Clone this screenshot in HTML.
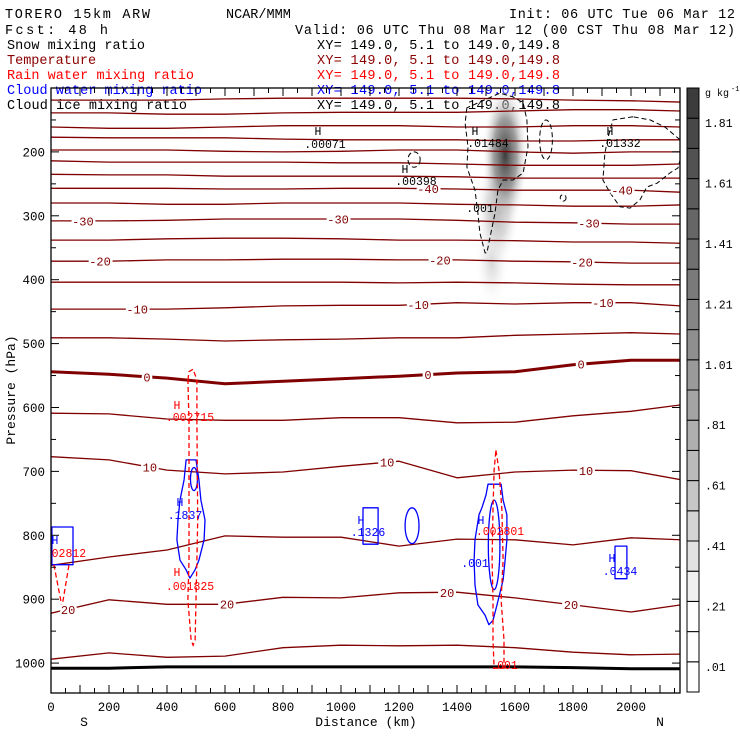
<!DOCTYPE html>
<html><head><meta charset="utf-8"><style>
html,body{margin:0;padding:0;background:#fff}
svg{display:block}
text{font-family:"Liberation Mono","DejaVu Sans Mono",monospace}
</style></head><body>
<svg id="chart" width="740" height="740" viewBox="0 0 740 740" xmlns="http://www.w3.org/2000/svg">
<rect x="0" y="0" width="740" height="740" fill="#fff"/>
<g font-size="13.5">
<text x="5" y="18" textLength="145">TORERO  15km ARW</text>
<text x="226" y="18">NCAR/MMM</text>
<text x="735" y="18" text-anchor="end" textLength="226">Init: 06 UTC Tue 06 Mar 12</text>
<text x="5" y="34" textLength="103">Fcst:  48 h</text>
<text x="735" y="34" text-anchor="end" textLength="440">Valid: 06 UTC Thu 08 Mar 12 (00 CST Thu 08 Mar 12)</text>
<text x="7" y="49" fill="#000" textLength="138">Snow mixing ratio</text>
<text x="7" y="64" fill="#8b0000">Temperature</text>
<text x="7" y="79" fill="#ff0000" textLength="187">Rain water mixing ratio</text>
<text x="7" y="94" fill="#0000ff" textLength="195">Cloud water mixing ratio</text>
<text x="7" y="109" fill="#000" textLength="180">Cloud ice mixing ratio</text>
<text x="317" y="49" fill="#000" textLength="243">XY= 149.0,  5.1 to 149.0,149.8</text>
<text x="317" y="64" fill="#8b0000" textLength="243">XY= 149.0,  5.1 to 149.0,149.8</text>
<text x="317" y="79" fill="#ff0000" textLength="243">XY= 149.0,  5.1 to 149.0,149.8</text>
<text x="317" y="94" fill="#0000ff" textLength="243">XY= 149.0,  5.1 to 149.0,149.8</text>
<text x="317" y="109" fill="#000" textLength="243">XY= 149.0,  5.1 to 149.0,149.8</text>
</g>
<defs id="defs"></defs>
<g id="plot"></g>
<g id="axes"></g>
<g id="cbar"></g>
</svg>
<script>
const distances=[0,200,400,600,800,1000,1200,1400,1600,1800,2000,2172];
const isoTemps=[-75,-70,-65,-60,-55,-50,-45,-40,-35,-30,-25,-20,-15,-10,-5,0,5,10,15,20,25];
const isoP_m75=[119,119,119,117,116,116,116,116,117,119,120,122];
const isoP_m70=[139,139,141,141,139,138,138,138,136,134,134,136];
const isoP_m65=[161,163,163,161,159,159,159,161,161,159,159,161];
const isoP_m60=[177,178,178,178,180,181,181,181,183,183,181,181];
const isoP_m55=[197,197,197,199,200,199,197,197,200,202,200,200];
const isoP_m50=[214,216,216,216,216,217,217,219,221,221,221,219];
const isoP_m45=[235,236,236,238,238,238,238,239,241,241,241,241];
const isoP_m40=[257,257,257,258,258,257,257,258,260,260,260,263];
const isoP_m35=[280,280,282,282,280,280,280,282,283,285,285,283];
const isoP_m30=[308,308,307,305,305,305,305,307,310,311,313,313];
const isoP_m25=[338,338,336,335,335,336,338,338,339,341,341,343];
const isoP_m20=[371,371,369,369,368,368,369,369,371,372,374,374];
const isoP_m15=[404,404,404,404,404,404,405,404,405,407,408,408];
const isoP_m10=[446,446,446,444,441,440,440,436,438,436,436,441];
const isoP_m5=[491,491,493,496,494,493,491,491,487,485,483,485];
const isoP_0=[544,548,554,563,559,555,551,546,544,533,526,526];
const isoP_5=[609,610,618,620,620,616,616,624,623,613,606,596];
const isoP_10=[677,682,698,704,701,692,684,710,701,698,699,713];
const isoP_15=[847,834,823,801,803,803,817,806,807,815,804,807];
const isoP_20=[922,901,908,908,897,898,890,889,898,909,920,909];
const isoP_25=[994,984,991,989,976,972,973,972,976,983,987,986];
const surfaceP=[1008,1008,1006,1006,1006,1006,1006,1006,1006,1007,1009,1009];
const isoSeries=[isoP_m75,isoP_m70,isoP_m65,isoP_m60,isoP_m55,isoP_m50,isoP_m45,isoP_m40,isoP_m35,isoP_m30,isoP_m25,isoP_m20,isoP_m15,isoP_m10,isoP_m5,isoP_0,isoP_5,isoP_10,isoP_15,isoP_20,isoP_25];
const labelTemps=[-30,-20,-10,0,10,20,20,-40,-30,-20,-10,0,10,20,-40,-30,-20,-10,0,10,20];
const labelKm=[110,169,297,331,341,59,607,1300,990,1341,1266,1300,1159,1366,1969,1855,1831,1903,1828,1845,1793];
// snow blobs: km, hPa, rx km, ry hPa, value g/kg
const snowKm=[1566,1541,1521];
const snowP=[205,290,370];
const snowRxKm=[80,75,60];
const snowRyP=[115,90,75];
const snowVal=[2.0,0.8,0.45];
// cloud ice contours [km,hPa]
const ice1=[[1434,131],[1428,155],[1438,192],[1434,224],[1462,260],[1472,296],[1479,327],[1497,358],[1503,358],[1514,333],[1531,296],[1541,260],[1559,244],[1593,244],[1628,233],[1645,192],[1641,150],[1628,123],[1593,114],[1548,108]];
const ice2=[[2007,145],[1938,150],[1921,177],[1910,202],[1903,244],[1928,264],[1962,286],[1997,288],[2031,275],[2055,255],[2090,249],[2134,233],[2162,225],[2169,213],[2169,181],[2117,161],[2066,150]];
const iceEllKm=[1707,1252,1766];
const iceEllP=[181,212,272];
const iceEllRx=[22,21,10];
const iceEllRy=[31,12,5];
// rain contours
const rain1=[[472,557],[476,544],[490,540],[503,557],[503,620],[506,776],[503,839],[500,901],[497,964],[490,972],[483,964],[472,901],[476,839],[476,776],[476,620]];
const rain2=[[10,846],[38,912],[62,846]];
const rain3=[[1534,667],[1545,698],[1555,760],[1559,839],[1552,901],[1562,964],[1562,1008],[1528,1008],[1524,964],[1524,901],[1521,839],[1524,760],[1528,698]];
// cloud water contours
const cw1=[[466,682],[500,682],[510,713],[517,745],[531,776],[528,807],[510,839],[497,854],[479,867],[466,854],[445,839],[434,807],[438,776],[445,745],[459,713]];
const cw2=[[3,787],[76,787],[76,846],[3,846]];
const cw3=[[1128,757],[1076,757],[1076,814],[1128,814]];
const cw4=[[1986,817],[1945,817],[1945,868],[1986,868]];
const cw5=[[1507,720],[1552,720],[1559,745],[1572,768],[1572,807],[1566,839],[1559,870],[1538,909],[1524,933],[1510,940],[1497,925],[1472,909],[1462,878],[1459,839],[1462,807],[1476,768],[1486,757],[1500,737]];
const cwEllKm=[1245,1528,493];
const cwEllP=[785,815,712];
const cwEllRx=[24,20,12];
const cwEllRy=[28,70,18];
const yTicks=[200,300,400,500,600,700,800,900,1000];
const xTicks=[0,200,400,600,800,1000,1200,1400,1600,1800,2000];
const cbLabels=['.01','.21','.41','.61','.81','1.01','1.21','1.41','1.61','1.81'];
const cbColors=['#ffffff','#ffffff','#ffffff','#f0f0f0','#e2e2e2','#d4d4d4','#c6c6c6','#bababa','#afafaf','#a4a4a4','#9a9a9a','#8f8f8f','#858585','#7a7a7a','#707070','#666666','#5c5c5c','#525252','#484848','#3c3c3c'];

const NS='http://www.w3.org/2000/svg';
const X0=51,X1=680,Y0=88,Y1=693;
function X(km){return X0+km*0.29;}
function Y(p){return Y0+(p-100)/1.565;}
function mk(tag,parent,attrs){const e=document.createElementNS(NS,tag);for(const k in attrs)e.setAttribute(k,attrs[k]);parent.appendChild(e);return e;}
const plot=document.getElementById('plot');
const axes=document.getElementById('axes');
const cbar=document.getElementById('cbar');
const defs=document.getElementById('defs');
const clip=mk('clipPath',defs,{id:'pc'});mk('rect',clip,{x:X0,y:Y0,width:X1-X0,height:Y1-Y0});
const g=mk('g',plot,{'clip-path':'url(#pc)'});


function cbColor(v){let i=Math.floor((v-0.01)/0.1)+1;if(i<0)i=0;if(i>19)i=19;return cbColors[i];}
// snow shading
for(let i=snowKm.length-1;i>=0;i--){
 const gr=mk('radialGradient',defs,{id:'sg'+i});
 mk('stop',gr,{offset:'0','stop-color':cbColor(snowVal[i]),'stop-opacity':'1'});
 mk('stop',gr,{offset:'0.5','stop-color':cbColor(snowVal[i]*0.55),'stop-opacity':'0.85'});
 mk('stop',gr,{offset:'1','stop-color':'#ffffff','stop-opacity':'0'});
 const e=mk('ellipse',g,{cx:X(snowKm[i]),cy:Y(snowP[i]),rx:snowRxKm[i]*0.29,ry:snowRyP[i]/1.565,fill:'url(#sg'+i+')'});
 
 
}
function poly(pts,open){return pts.map((q,i)=>(i?'L':'M')+X(q[0]).toFixed(1)+' '+Y(q[1]).toFixed(1)).join(' ')+(open?'':' Z');}
// isotherms
isoSeries.forEach((arr,k)=>{
 const d=arr.map((p,i)=>(i?'L':'M')+X(distances[i]).toFixed(1)+' '+Y(p).toFixed(1)).join(' ');
 const e=mk('path',g,{d:d,fill:'none',stroke:'#800000','stroke-width':isoTemps[k]===0?3:1.3,'stroke-linejoin':'round'});
 
 
});
const sd=surfaceP.map((p,i)=>(i?'L':'M')+X(distances[i]).toFixed(1)+' '+Y(p).toFixed(1)).join(' ');
const sf=mk('path',g,{d:sd,fill:'none',stroke:'#000','stroke-width':3});


// ice
[ice1,ice2].forEach(c=>{const e=mk('path',g,{d:poly(c),fill:'none',stroke:'#000','stroke-width':1,'stroke-dasharray':'5,3'});
 
 });
iceEllKm.forEach((k,i)=>{const e=mk('ellipse',g,{cx:X(k),cy:Y(iceEllP[i]),rx:iceEllRx[i]*0.29,ry:iceEllRy[i]/1.565,fill:'none',stroke:'#000','stroke-dasharray':'5,3'});
 
 });
// cloud water
[cw1,cw2,cw3,cw4,cw5].forEach(c=>{const e=mk('path',g,{d:poly(c),fill:'none',stroke:'#0000ff','stroke-width':1.3,'stroke-linejoin':'round'});
 
 });
cwEllKm.forEach((k,i)=>{const e=mk('ellipse',g,{cx:X(k),cy:Y(cwEllP[i]),rx:cwEllRx[i]*0.29,ry:cwEllRy[i]/1.565,fill:'none',stroke:'#0000ff','stroke-width':1.3});
 
 });
// rain
[[rain1,false],[rain2,true],[rain3,false]].forEach(c=>{const e=mk('path',g,{d:poly(c[0],c[1]),fill:'none',stroke:'#ff0000','stroke-width':1.3,'stroke-dasharray':'5,3'});
 
 });
// isotherm labels
function interp(arr,km){for(let i=0;i<distances.length-1;i++){if(km<=distances[i+1]){const t=(km-distances[i])/(distances[i+1]-distances[i]);return arr[i]+t*(arr[i+1]-arr[i]);}}return arr[arr.length-1];}
labelTemps.forEach((t,i)=>{const arr=isoSeries[isoTemps.indexOf(t)];const y=Y(interp(arr,labelKm[i]));
 const e=mk('text',g,{x:X(labelKm[i]),y:y+4.5,'text-anchor':'middle','font-size':'12',fill:'#800000',stroke:'#fff','stroke-width':5,'paint-order':'stroke'});
 e.textContent=String(t);
 
 });
// extreme labels
const hl=[['H',318,135,'#000'],['.00071',325,148,'#000'],['H',405,173,'#000'],['.00398',416,185,'#000'],['H',475,135,'#000'],['.01484',488,147,'#000'],['H',610,135,'#000'],['.01332',620,147,'#000'],['.001',480,212,'#000'],
['H',177,409,'#f00'],['.002715',190,421,'#f00'],['H',177,576,'#f00'],['.001825',190,590,'#f00'],['.002801',500,535,'#f00'],['.001',504,669,'#f00'],['.002812',62,557,'#f00'],
['H',180,506,'#00f'],['.1837',185,519,'#00f'],['H',361,524,'#00f'],['.1326',368,536,'#00f'],['H',481,524,'#00f'],['.001',475,567,'#00f'],['H',612,562,'#00f'],['.0434',620,575,'#00f'],['H',55,544,'#00f']];
hl.forEach(h=>{const e=mk('text',g,{x:h[1],y:h[2],'text-anchor':'middle','font-size':'11.5',fill:h[3]});e.textContent=h[0];
 
 });
// axes frame
const fr=mk('rect',axes,{x:X0,y:Y0,width:X1-X0,height:Y1-Y0,fill:'none',stroke:'#000','stroke-width':1.3});


for(let p=100;p<=1040;p+=50){const y=Y(p);const L=(p%100===0)?8:5;
 mk('line',axes,{x1:X0,y1:y,x2:X0+L,y2:y,stroke:'#000'});mk('line',axes,{x1:X1,y1:y,x2:X1-L,y2:y,stroke:'#000'});}
for(let k=0;k<=2150;k+=50){const x=X(k);const L=(k%100===0)?8:5;
 mk('line',axes,{x1:x,y1:Y0,x2:x,y2:Y0+L,stroke:'#000'});mk('line',axes,{x1:x,y1:Y1,x2:x,y2:Y1-L,stroke:'#000'});}
yTicks.forEach(p=>{const e=mk('text',axes,{x:45,y:Y(p)+4.5,'text-anchor':'end','font-size':'12.5'});e.textContent=String(p);
 
 });
xTicks.forEach(k=>{const e=mk('text',axes,{x:X(k),y:711,'text-anchor':'middle','font-size':'12.5'});e.textContent=String(k);
 
 });
[['S',84,726,'x-start-label'],['N',660,726,'x-end-label']].forEach(t=>{const e=mk('text',axes,{x:t[1],y:t[2],'text-anchor':'middle','font-size':'13'});e.textContent=t[0];
 
 });
const xt=mk('text',axes,{x:366,y:726,'text-anchor':'middle','font-size':'13'});xt.textContent='Distance (km)';


const yt=mk('text',axes,{x:0,y:0,'text-anchor':'middle','font-size':'13',transform:'translate(15,390) rotate(-90)'});yt.textContent='Pressure (hPa)';


// colorbar
const CB0=88,CB1=692,CBX=687,CBW=12,bh=(CB1-CB0)/cbColors.length;
cbColors.forEach((c,i)=>{const e=mk('rect',cbar,{x:CBX,y:CB1-(i+1)*bh,width:CBW,height:bh,fill:c,stroke:'#000','stroke-width':1});
 
 });
cbLabels.forEach((l,i)=>{const e=mk('text',cbar,{x:705,y:CB1-(2*i+1)*bh+9,'font-size':'11.5'});e.textContent=l;
 
 });
const un=mk('text',cbar,{x:705,y:96,'font-size':'10'});un.textContent='g kg';


const sup=mk('text',cbar,{x:731,y:91,'font-size':'7'});sup.textContent='-1';


</script>
</body></html>
